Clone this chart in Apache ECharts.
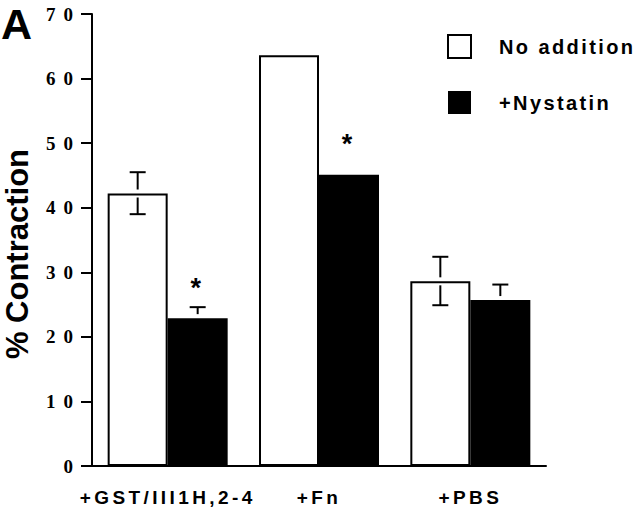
<!DOCTYPE html>
<html><head><meta charset="utf-8">
<script src="https://cdn.jsdelivr.net/npm/echarts@6/dist/echarts.min.js"></script>
<style>html,body{margin:0;padding:0;background:#fff}#main{width:640px;height:509px}</style>
</head><body><div id="main"></div>
<script>
// ---- data ----
const categories = ['+GST/III1H,2-4', '+Fn', '+PBS'];
const seriesNames = ['No addition', '+Nystatin'];
const noAddition = [42.2, 63.6, 28.6];
const nystatin = [22.9, 45.1, 25.7];
const noAdditionErrHigh = [45.5, null, 32.4];
const noAdditionErrLow = [39.0, null, 24.9];
const nystatinErrHigh = [24.6, null, 28.1];
const asteriskLevel = [27.6, 49.8, null];
const yMin = 0, yMax = 70, yStep = 10;

// ---- styles ----
const BAR_W = 60, GAP = 4, CAP = 8;
const chart = echarts.init(document.getElementById('main'), null, {renderer: 'svg'});

const errData = [];
categories.forEach((c, i) => {
  errData.push([i, noAddition[i], noAdditionErrHigh[i], noAdditionErrLow[i], -1]);
  errData.push([i, nystatin[i], nystatinErrHigh[i], null, 1]);
});
const starData = [];
categories.forEach((c, i) => { if (asteriskLevel[i] != null) starData.push([i, asteriskLevel[i]]); });

function line(x1, y1, x2, y2) {
  return {type: 'line', shape: {x1, y1, x2, y2}, style: {stroke: '#000', lineWidth: 2}};
}

chart.setOption({
  animation: false,
  grid: {left: 92, right: 94, top: 14, bottom: 43},
  legend: {
    orient: 'vertical', left: 447, top: 34, itemWidth: 23, itemHeight: 23, itemGap: 32,
    icon: 'rect', padding: 0, data: seriesNames,
    textStyle: {fontFamily: 'Liberation Sans', fontWeight: 'bold', fontSize: 20, color: '#000', padding: [0, 0, 0, 23]}
  },
  graphic: [
    {type: 'text', left: 1, top: 2, style: {text: 'A', font: 'bold 43px "Liberation Sans"', fill: '#000'}},
    {type: 'text', x: 17, y: 254, rotation: Math.PI / 2,
     style: {text: '% Contraction', font: 'bold 31px "Liberation Sans"', fill: '#000', align: 'center', verticalAlign: 'middle'}}
  ],
  xAxis: {
    type: 'category', data: categories,
    axisLine: {lineStyle: {color: '#000', width: 2}},
    axisTick: {alignWithLabel: true, length: 14, lineStyle: {color: '#000', width: 2}},
    axisLabel: {interval: 0, hideOverlap: false, margin: 22, color: '#000', fontFamily: 'Liberation Sans', fontWeight: 'bold', fontSize: 19}
  },
  yAxis: {
    type: 'value', min: yMin, max: yMax, interval: yStep,
    axisLine: {show: true, lineStyle: {color: '#000', width: 2}},
    axisTick: {show: true, length: 11, lineStyle: {color: '#000', width: 2}},
    splitLine: {show: false},
    axisLabel: {margin: 11, color: '#000', fontFamily: 'Liberation Serif', fontWeight: 'bold', fontSize: 19}
  },
  series: [
    {name: seriesNames[0], type: 'bar', data: noAddition, barWidth: BAR_W, barGap: '0%',
     itemStyle: {color: '#fff', borderColor: '#000', borderWidth: 2}},
    {name: seriesNames[1], type: 'bar', data: nystatin, barWidth: BAR_W, barGap: '0%',
     itemStyle: {color: '#000', borderColor: '#000', borderWidth: 0}},
    {type: 'custom', data: errData, encode: {x: 0, y: 1}, z: 5, silent: true,
     renderItem(params, api) {
       const d = errData[params.dataIndex];
       const i = d[0], v = d[1], hi = d[2], lo = d[3], side = d[4];
       const c = api.coord([i, v]);
       const x = c[0] + side * BAR_W / 2;
       const ch = [];
       if (hi != null) {
         const yh = api.coord([i, hi])[1];
         ch.push(line(x, yh, x, c[1] - GAP), line(x - CAP, yh, x + CAP, yh));
       }
       if (lo != null) {
         const yl = api.coord([i, lo])[1];
         ch.push(line(x, c[1] + GAP, x, yl), line(x - CAP, yl, x + CAP, yl));
       }
       return {type: 'group', children: ch};
     }},
    {type: 'custom', data: starData, encode: {x: 0, y: 1}, z: 5, silent: true,
     renderItem(params, api) {
       const c = api.coord([api.value(0), api.value(1)]);
       return {type: 'text', x: c[0] + BAR_W / 2 - 2, y: c[1],
         style: {text: '*', font: 'bold 27px "Liberation Sans"', fill: '#000', align: 'center', verticalAlign: 'middle'}};
     }}
  ]
});

function spacing() {
  const yl = [];
  for (let v = yMin; v <= yMax; v += yStep) yl.push(String(v));
  document.querySelectorAll('#main text').forEach(t => {
    const s = t.textContent;
    if (categories.includes(s)) t.style.letterSpacing = '3.4px';
    else if (yl.includes(s)) t.style.letterSpacing = '8px';
    else if (seriesNames.includes(s)) t.style.letterSpacing = '2.4px';
  });
}
chart.on('finished', spacing);
setTimeout(spacing, 50);
setTimeout(spacing, 300);
</script></body></html>
